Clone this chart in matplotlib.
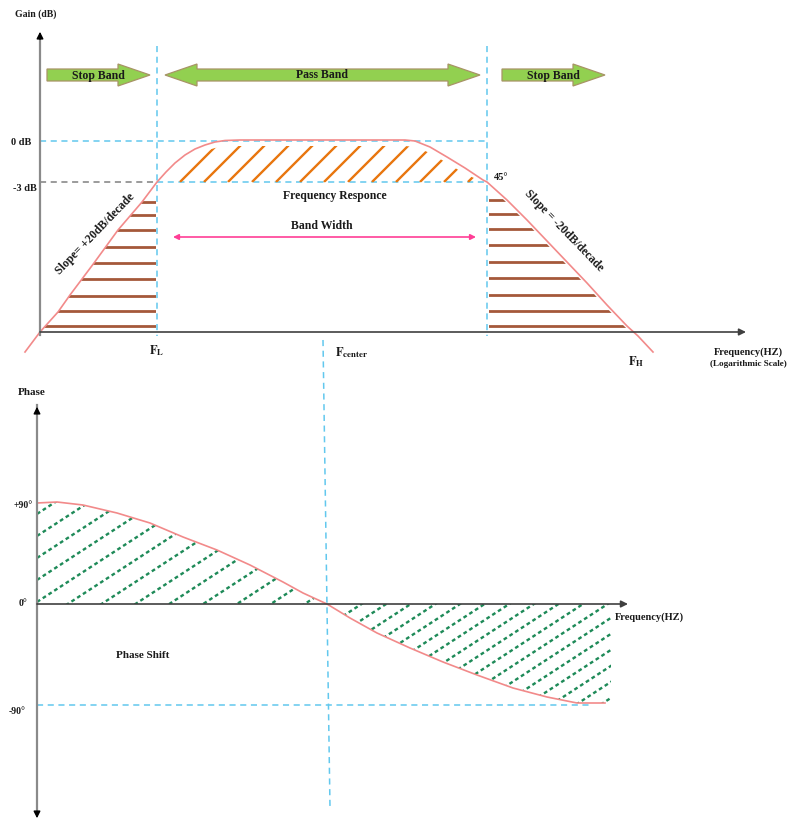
import matplotlib
matplotlib.use("Agg")
import matplotlib.pyplot as plt
import numpy as np
from matplotlib.patches import Polygon

plt.rcParams['font.family'] = ['Liberation Serif', 'DejaVu Serif']
plt.rcParams['mathtext.fontset'] = 'stix'

# gain curve (pixel coords of the diagram, y grows downwards)
gain_x = [25, 40, 58, 70, 94, 118, 142, 157, 166, 175, 185, 195, 205, 215, 225, 240, 300, 360,
          405, 415, 430, 447, 465, 483, 487, 507, 527, 547, 567, 587, 607, 627, 638, 653]
gain_y = [352, 332, 312, 295, 263, 230, 202, 182, 172, 163, 155, 149, 145, 142, 140.5, 140, 140, 140,
          140, 141, 147, 157, 168, 180, 182, 200, 220, 241, 262, 283, 305, 326, 336, 352]

# phase curve
phase_x = [37, 57, 83, 117, 150, 183, 217, 250, 283, 303, 327, 350, 377, 410, 443, 477,
           513, 547, 577, 605]
phase_y = [503, 502, 505, 513, 523, 537, 550, 565, 582, 593, 604, 618, 633, 648, 662, 675,
           688, 697, 703, 703]

# key levels / frequencies
y_0db, y_3db, y_gain_axis = 141, 182, 332
x_fl, x_fh_line, x_gain_axis = 157, 487, 40
y_phase0, y_p90, y_m90, x_phase_axis = 604, 503, 705, 37

# stop band hatch rows
left_rows = [202, 215, 230, 247, 263, 279, 296, 311, 326]
right_rows = [200, 214, 229, 245, 262, 278, 295, 311, 326]

fig = plt.figure(figsize=(7.89, 8.23), dpi=100)
ax = fig.add_axes([0, 0, 1, 1])
ax.set_xlim(0, 789)
ax.set_ylim(823, 0)
ax.axis('off')

cyan = '#62C8EE'
green_fill = '#92D050'
green_edge = '#A89466'
red = '#F28A8A'
brown = '#A5583A'
orange = '#E8760E'
dgreen = '#1E8A58'
bold = dict(fontweight='bold', color='#1a1a1a')

gx = np.array(gain_x)
gy = np.array(gain_y)
px = np.array(phase_x)
py = np.array(phase_y)


def clip_lines(verts, segs, **kw):
    clip = Polygon(verts, closed=True, transform=ax.transData)
    for (xa, ya, xb, yb) in segs:
        ln, = ax.plot([xa, xb], [ya, yb], **kw)
        ln.set_clip_path(clip)


def arrow_shape(x0, x1, yc, left=False, right=True, hl=32, bw=6, hw=11):
    pts = []
    a = x0 + hl if left else x0
    b = x1 - hl if right else x1
    if left:
        pts += [(x0, yc), (a, yc - hw), (a, yc - bw)]
    else:
        pts += [(x0, yc - bw)]
    if right:
        pts += [(b, yc - bw), (b, yc - hw), (x1, yc), (b, yc + hw), (b, yc + bw)]
    else:
        pts += [(x1, yc - bw), (x1, yc + bw)]
    if left:
        pts += [(a, yc + bw), (a, yc + hw)]
    else:
        pts += [(x0, yc + bw)]
    ax.add_patch(Polygon(pts, closed=True, fc=green_fill, ec=green_edge, lw=0.9))


# ---------------- gain panel ----------------
# guide lines
ax.plot([x_fl, x_fl], [46, 336], ls=(0, (4, 3)), color=cyan, lw=1.1)
ax.plot([x_fh_line, x_fh_line], [46, 336], ls=(0, (4, 3)), color=cyan, lw=1.1)
ax.plot([x_gain_axis, x_fh_line], [y_0db, y_0db], ls=(0, (4, 3)), color=cyan, lw=1.1)
ax.plot([x_gain_axis, x_fl], [y_3db, y_3db], ls=(0, (4, 3)), color='#808080', lw=1.1)
ax.plot([x_fl, x_fh_line], [y_3db, y_3db], ls=(0, (4, 3)), color=cyan, lw=1.1)
ax.plot([323, 330], [340, 808], ls=(0, (4, 3)), color=cyan, lw=1.1)

# orange hatch in pass band
m = (gx >= x_fl) & (gx <= x_fh_line)
top = [(x, min(y + 6, y_3db)) for x, y in zip(gx[m], gy[m])]
verts = top + [(x_fh_line, y_3db + 0.5), (x_fl, y_3db + 0.5)]
segs = [(c - y_3db, y_3db, c - 120, 120) for c in np.arange(362, 660, 24)]
clip_lines(verts, segs, color=orange, lw=1.7, solid_capstyle='butt')

# brown rows in stop bands
m = (gx >= x_gain_axis) & (gx <= x_fl)
verts = list(zip(gx[m], gy[m])) + [(156, y_3db), (156, y_gain_axis), (x_gain_axis, y_gain_axis)]
clip_lines(verts, [(x_gain_axis, r, 156, r) for r in left_rows], color=brown, lw=2)
m = (gx >= x_fh_line) & (gx <= 640)
verts = [(489, y_3db)] + list(zip(gx[m] - 3, gy[m])) + [(489, 336)]
clip_lines(verts, [(489, r, 700, r) for r in right_rows], color=brown, lw=2)

# gain curve
ax.plot(gx, gy, color=red, lw=1.2)

# axes
ax.plot([x_gain_axis, x_gain_axis], [335, 40], color='#8a8a8a', lw=1.6)
ax.annotate('', xy=(x_gain_axis, 29), xytext=(x_gain_axis, 42),
            arrowprops=dict(arrowstyle='-|>', color='black', lw=1, mutation_scale=10))
ax.annotate('', xy=(746, y_gain_axis), xytext=(x_gain_axis, y_gain_axis),
            arrowprops=dict(arrowstyle='-|>', color='#404040', lw=1.2, mutation_scale=10,
                            shrinkA=0, shrinkB=0))

# band arrows
arrow_shape(47, 150, 75)
arrow_shape(165, 480, 75, left=True, right=True)
arrow_shape(502, 605, 75)
ax.text(98, 76, 'Stop Band', ha='center', va='center', fontsize=8.5, **bold)
ax.text(322, 75, 'Pass Band', ha='center', va='center', fontsize=8.5, **bold)
ax.text(553, 76, 'Stop Band', ha='center', va='center', fontsize=8.5, **bold)

# bandwidth arrow
ax.annotate('', xy=(173, 237), xytext=(476, 237),
            arrowprops=dict(arrowstyle='<|-|>', color='#FF3E96', lw=1.2, mutation_scale=8,
                            shrinkA=0, shrinkB=0))

# gain texts
ax.text(36, 14, 'Gain (dB)', ha='center', va='center', fontsize=7, **bold)
ax.text(31, 142, '0 dB', ha='right', va='center', fontsize=7.5, **bold)
ax.text(37, 188, '-3 dB', ha='right', va='center', fontsize=7.5, **bold)
ax.text(335, 196, 'Frequency Responce', ha='center', va='center', fontsize=8.5, **bold)
ax.text(322, 226, 'Band Width', ha='center', va='center', fontsize=8.5, **bold)
ax.text(494, 177, '45°', ha='left', va='center', fontsize=7.5, **bold)
ax.text(95, 234, 'Slope= +20dB/decade', ha='center', va='center', rotation=46,
        fontsize=8.5, rotation_mode='anchor', **bold)
ax.text(564, 231, 'Slope = -20dB/decade', ha='center', va='center', rotation=-46,
        fontsize=8.5, rotation_mode='anchor', **bold)
ax.text(157, 351, r'$\mathbf{F_{L}}$', ha='center', va='center', fontsize=9, color='#1a1a1a')
ax.text(352, 353, r'$\mathbf{F_{center}}$', ha='center', va='center', fontsize=9, color='#1a1a1a')
ax.text(636, 362, r'$\mathbf{F_{H}}$', ha='center', va='center', fontsize=9, color='#1a1a1a')
ax.text(748, 352, 'Frequency(HZ)', ha='center', va='center', fontsize=7.5, **bold)
ax.text(787, 364, '(Logarithmic Scale)', ha='right', va='center', fontsize=6.6, **bold)

# ---------------- phase panel ----------------
ax.plot([x_phase_axis, 593], [y_m90, y_m90], ls=(0, (4, 3)), color=cyan, lw=1.1)

# green dashed hatch
m = px <= 327
verts = list(zip(px[m], py[m])) + [(x_phase_axis, y_phase0)]
segs = [(x_phase_axis, c - 0.65 * x_phase_axis, 340, c - 0.65 * 340)
        for c in np.arange(538, 860, 22)]
clip_lines(verts, segs, color=dgreen, lw=1.7, ls=(0, (1.6, 1.3)))
m = px >= 327
verts = list(zip(px[m], py[m])) + [(611, 703), (611, y_phase0)]
segs = [(320, c - 0.65 * 320, 620, c - 0.65 * 620) for c in np.arange(839, 1100, 16)]
clip_lines(verts, segs, color=dgreen, lw=1.7, ls=(0, (1.6, 1.3)))

# phase curve
ax.plot(px, py, color=red, lw=1.2)

# axes
ax.plot([x_phase_axis, x_phase_axis], [405, 812], color='#8a8a8a', lw=1.6)
ax.annotate('', xy=(x_phase_axis, 404), xytext=(x_phase_axis, 416),
            arrowprops=dict(arrowstyle='-|>', color='black', lw=1, mutation_scale=10))
ax.annotate('', xy=(x_phase_axis, 821), xytext=(x_phase_axis, 809),
            arrowprops=dict(arrowstyle='-|>', color='black', lw=1, mutation_scale=10))
ax.annotate('', xy=(628, y_phase0), xytext=(x_phase_axis, y_phase0),
            arrowprops=dict(arrowstyle='-|>', color='#404040', lw=1.2, mutation_scale=10,
                            shrinkA=0, shrinkB=0))

ax.text(32, 392, 'Phase', ha='center', va='center', fontsize=8, **bold)
ax.text(33, 505, '+90°', ha='right', va='center', fontsize=7, **bold)
ax.text(28, 604, '0°', ha='right', va='center', fontsize=7, **bold)
ax.text(26, 711, '-90°', ha='right', va='center', fontsize=7, **bold)
ax.text(143, 656, 'Phase Shift', ha='center', va='center', fontsize=8, **bold)
ax.text(615, 617, 'Frequency(HZ)', ha='left', va='center', fontsize=7.5, **bold)

fig.savefig('out.png', dpi=100)
